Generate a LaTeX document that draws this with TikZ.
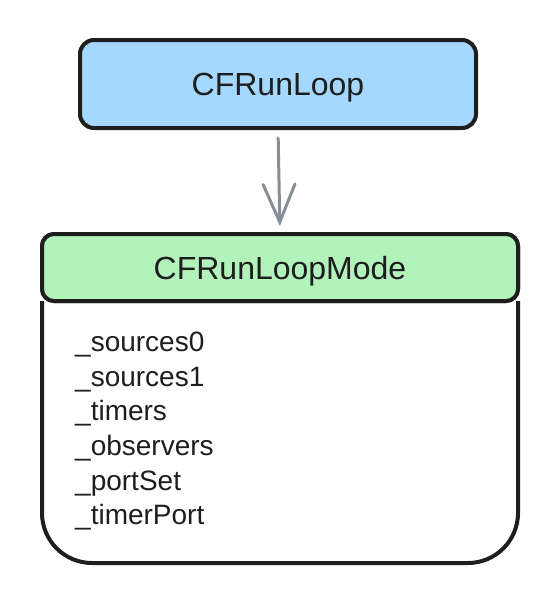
\documentclass[tikz,border=0pt]{standalone}
\usepackage{fontspec}
\setmainfont{Liberation Sans}
\usetikzlibrary{arrows.meta, positioning}
\definecolor{loopblue}{HTML}{A5D8FF}
\definecolor{modegreen}{HTML}{B2F2BB}
\definecolor{inkblack}{HTML}{1E1E1E}
\definecolor{arrowgray}{HTML}{868E96}
\tikzset{
  classbox/.style={draw=inkblack, line width=4pt, rounded corners=14pt, outer sep=0pt,
    inner sep=0pt, text depth=0pt, text=inkblack, font=\fontsize{32}{40}\selectfont},
  fieldlist/.style={inner sep=0pt, align=left, text=inkblack, font=\fontsize{28}{34.6}\selectfont}
}

\begin{document}
\begin{tikzpicture}[x=1pt, y=-1pt]
\useasboundingbox (0,0) rectangle (560,606);
\node[classbox, fill=loopblue, minimum width=396pt, minimum height=88pt] (loop) at (278,84) {CFRunLoop};
% body of the mode box, then its header on top
\coordinate (modeend) at (280,563);
\node[classbox, fill=modegreen, minimum width=476pt, minimum height=67pt, rounded corners=12pt] (modehead) at (280,267.5) {};
\draw[inkblack, line width=4pt, rounded corners=50pt] (modehead.south west) |- (modeend) -| (modehead.south east);
\node[classbox, fill=modegreen, minimum width=476pt, minimum height=67pt, rounded corners=12pt] at (modehead) {CFRunLoopMode};
\node[fieldlist, anchor=north west] (fields) at (75,332) {
  \_sources0\\
  \_sources1\\
  \_timers\\
  \_observers\\
  \_portSet\\
  \_timerPort};
\draw[arrowgray, line width=3pt, line cap=round, shorten <=10pt, shorten >=8pt,
  -{Straight Barb[length=38pt, width=32pt, line cap=round]}] (loop.south) -- (modehead.north);
\end{tikzpicture}
\end{document}
